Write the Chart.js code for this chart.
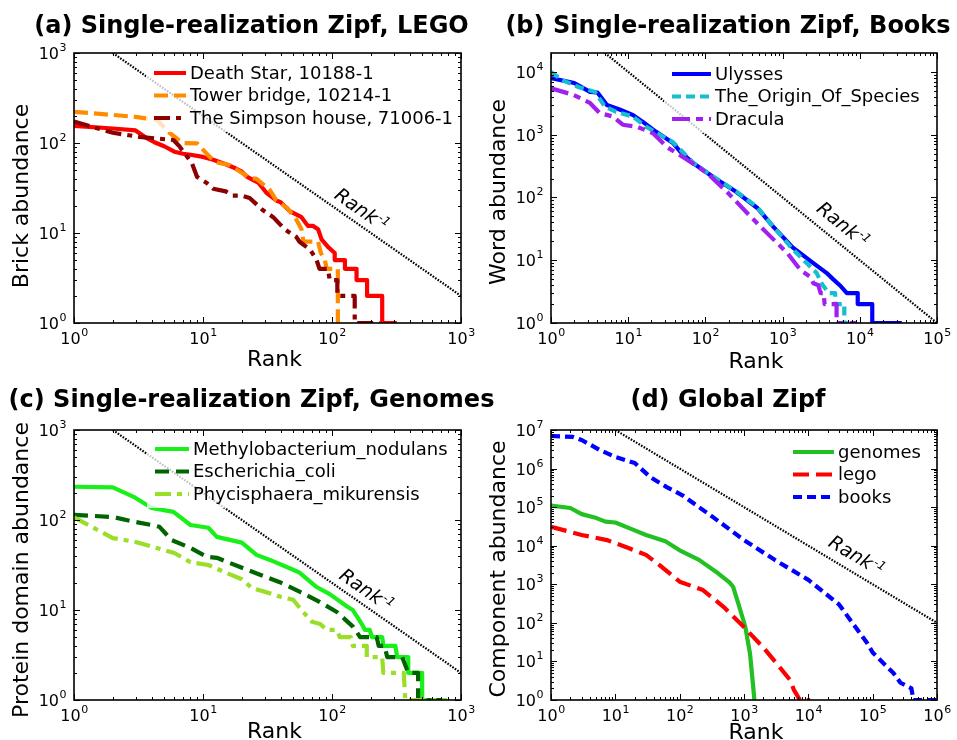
<!DOCTYPE html>
<html>
<head>
<meta charset="utf-8">
<script src="https://cdn.jsdelivr.net/npm/chart.js@4.4.1/dist/chart.umd.min.js"></script>
<style>
  html, body { margin: 0; padding: 0; background: #fff; }
  #wrap { position: relative; width: 957px; height: 740px; }
  #wrap canvas { position: absolute; left: 0; top: 0; }
</style>
</head>
<body>
<div id="wrap">
  <canvas id="chartA" width="957" height="740"></canvas>
  <canvas id="chartB" width="957" height="740"></canvas>
  <canvas id="chartC" width="957" height="740"></canvas>
  <canvas id="chartD" width="957" height="740"></canvas>
</div>
<script>
// ---------------- DATA ----------------
// (a) LEGO sets
const deathStarRank  = [1, 2, 3, 3.6, 4.2, 5, 6, 7, 8, 10, 12, 15, 18, 20, 22, 27, 31, 37, 40, 47, 58, 65, 71, 78, 83, 93, 105, 105, 126, 126, 155, 155, 187, 187, 245, 245, 318];
const deathStarCount = [155, 145, 138, 115, 102, 92, 80, 76, 74, 70, 65, 58, 52, 48, 42, 36, 28, 23, 22, 17.5, 15, 12, 12, 11, 8.5, 7, 6, 5, 5, 4, 4, 3, 3, 2, 2, 1, 1];
const towerRank  = [1, 2, 3, 4.4, 5.5, 6.9, 9, 9.5, 11.3, 12.7, 16, 23, 26, 33, 37, 45, 53, 58, 60, 78, 82, 88, 91, 111, 111, 116];
const towerCount = [222, 205, 195, 180, 130, 100, 99, 91, 70, 61, 57, 41, 40, 30, 23, 19, 14, 11, 8, 8, 6, 5, 4, 4, 1, 1];
const simpsonRank  = [1, 2, 3.2, 5.9, 6.6, 8.2, 9, 10.7, 12, 15, 17, 20, 23, 29, 35, 43, 53, 56, 68, 76, 80, 93, 96, 110, 110, 150, 150, 235];
const simpsonCount = [173, 130, 117, 108, 91, 60, 42, 36, 31, 29, 26, 26, 24.5, 18, 15, 11, 9, 8, 6.5, 5, 4, 4, 3, 3, 2, 2, 1, 1];

// (b) books
const ulyssesRank  = [1, 2, 3.2, 4, 5.3, 7.9, 11.6, 15.5, 23, 38, 47, 69, 126, 250, 470, 760, 1350, 2500, 3700, 4500, 5500, 6800, 9400, 9400, 14500, 14500, 35000];
const ulyssesCount = [7950, 6650, 4800, 4700, 2970, 2500, 2050, 1600, 1110, 740, 540, 355, 212, 123, 68, 34, 16, 9, 6.3, 5, 4, 3, 3, 2, 2, 1, 1];
const originRank  = [1, 1.4, 2.3, 3.7, 5, 7, 11.5, 17, 38, 69, 126, 250, 470, 760, 1350, 2050, 2750, 3300, 4000, 4800, 4800, 6300, 6300, 7000];
const originCount = [10000, 7400, 5700, 4800, 2800, 2300, 1950, 1340, 760, 360, 215, 125, 70, 34, 15, 9, 6.3, 4, 3, 3, 2, 2, 1, 1];
const draculaRank  = [1, 1.95, 3.2, 4.3, 6.3, 8.5, 13, 21, 32, 58, 105, 190, 350, 630, 1150, 1700, 2300, 2500, 2900, 3100, 3400, 3500, 5000, 5000, 9000];
const draculaCount = [5500, 4300, 3200, 2200, 1950, 1440, 1340, 1050, 630, 400, 245, 123, 56, 27, 13, 7, 5.4, 4.3, 4, 3, 3, 2, 2, 1, 1];

// (c) genomes
const methyloRank  = [1, 2, 2.9, 4, 5.9, 8, 11, 12.8, 20, 26, 33, 50, 56, 76, 96, 130, 145, 160, 170, 180, 196, 204, 245, 250, 310, 320, 390, 390, 500, 500, 780];
const methyloCount = [234, 230, 181, 136, 123, 88, 82, 65, 56, 41, 36, 28, 26, 18, 15, 11, 10, 8, 7, 6, 6, 5, 5, 4, 4, 3, 3, 2, 2, 1, 1];
const ecoliRank  = [1, 2, 3, 4, 4.6, 5.7, 8, 10.7, 12.8, 19.4, 28, 39, 56, 80, 109, 146, 165, 222, 230, 255, 268, 350, 390, 465, 465, 780];
const ecoliCount = [114, 108, 95, 88, 84, 60, 49, 39, 38, 30, 24.5, 20.5, 16, 12.3, 9.5, 6.5, 5, 5, 4, 4, 3, 3, 2, 2, 1, 1];
const phycisRank  = [1, 2, 3, 6, 8, 11, 15, 20, 24, 30, 40, 50, 58, 70, 81, 91, 109, 115, 140, 145, 186, 186, 245, 250, 360, 370, 780];
const phycisCount = [107, 63, 57, 43, 34, 31.6, 26, 22, 17.5, 16, 14, 13, 10, 7.4, 7, 6, 6, 5, 5, 4, 4, 3, 3, 2, 2, 1, 1];

// (d) global
const genomesRank  = [1, 2, 3, 5.1, 7, 10, 20, 30, 60, 100, 200, 400, 600, 680, 810, 1050, 1240, 1390, 1450];
const genomesCount = [110000, 95000, 66000, 52000, 42000, 40000, 25000, 19000, 13000, 7600, 4300, 1900, 1100, 850, 330, 78, 16, 2.2, 1];
const legoRank  = [1, 3, 7.4, 16, 30, 53, 100, 230, 480, 980, 2000, 3600, 5200, 6000, 7400, 10700];
const legoCount = [31000, 19000, 14000, 8700, 5800, 2800, 1170, 710, 260, 80, 23, 7, 3.3, 1.8, 1, 1];
const booksRank  = [1, 2.2, 3, 5.8, 10, 20, 35, 63, 112, 330, 1000, 3000, 10000, 30000, 82000, 100000, 210000, 270000, 400000, 430000, 1000000];
const booksCount = [7000000, 6600000, 5500000, 3000000, 2000000, 1400000, 600000, 330000, 200000, 55000, 14000, 4300, 1300, 300, 30, 17, 5, 2.8, 2, 1, 1];

// Rank^-1 guide lines: end points
const guideA = { rank: [2, 1000], count: [1000, 2] };
const guideB = { rank: [5, 100000], count: [20000, 1] };
const guideC = { rank: [2, 1000], count: [1000, 2] };
const guideD = { rank: [10, 1000000], count: [10000000, 100] };

// major tick values (labelled 10^n)
const ticksA = { x: [1, 10, 100, 1000], y: [1, 10, 100, 1000] };
const ticksB = { x: [1, 10, 100, 1000, 10000, 100000], y: [1, 10, 100, 1000, 10000] };
const ticksC = { x: [1, 10, 100, 1000], y: [1, 10, 100, 1000] };
const ticksD = { x: [1, 10, 100, 1000, 10000, 100000, 1000000], y: [1, 10, 100, 1000, 10000, 100000, 1000000, 10000000] };

// ---------------- HELPERS ----------------
const FONT = '"DejaVu Sans", "Liberation Sans", sans-serif';
const MAJOR = 6, MINOR = 3;

function pts(r, c) {
  return r.map((x, i) => ({ x: x, y: c[i] }));
}

function minorTicks(min, max) {
  const out = [];
  for (let e = Math.floor(Math.log10(min)); Math.pow(10, e) < max; e++) {
    for (let m = 2; m <= 9; m++) {
      const v = m * Math.pow(10, e);
      if (v > min && v < max) out.push(v);
    }
  }
  return out;
}

// draws "10" with a raised exponent; anchor = 'center' or 'right'
function drawPow(ctx, v, x, y, anchor) {
  const e = String(Math.round(Math.log10(v)));
  ctx.font = '16px ' + FONT;
  const wb = ctx.measureText('10').width;
  ctx.font = '11px ' + FONT;
  const we = ctx.measureText(e).width;
  const x0 = anchor === 'center' ? x - (wb + we) / 2 : x - wb - we;
  ctx.textAlign = 'left';
  ctx.textBaseline = 'alphabetic';
  ctx.font = '16px ' + FONT;
  ctx.fillText('10', x0, y);
  ctx.font = '11px ' + FONT;
  ctx.fillText(e, x0 + wb + 0.5, y - 8);
}

function makeDecor(p) {
  return {
    id: 'decor',
    afterDatasetsDraw(chart) {
      // legend with translucent background
      const ctx = chart.ctx, a = chart.chartArea;
      const L = p.legend;
      const rowH = 22.5;
      ctx.save();
      ctx.font = '18px ' + FONT;
      let tw = 0;
      p.series.forEach(s => { tw = Math.max(tw, ctx.measureText(s.label).width); });
      const bx = a.left + L.x - 8, by = a.top + L.y - 14;
      const bw = (L.textX - L.x) + tw + 14, bh = rowH * (p.series.length - 1) + 28;
      ctx.fillStyle = 'rgba(255,255,255,0.75)';
      ctx.fillRect(bx, by, bw, bh);
      p.series.forEach((s, i) => {
        const yy = a.top + L.y + i * rowH;
        ctx.strokeStyle = s.color;
        ctx.lineWidth = 4;
        ctx.setLineDash(s.dash || []);
        ctx.beginPath();
        ctx.moveTo(a.left + L.x, yy);
        ctx.lineTo(a.left + L.textX - 4, yy);
        ctx.stroke();
        ctx.setLineDash([]);
        ctx.fillStyle = '#000';
        ctx.textAlign = 'left';
        ctx.textBaseline = 'middle';
        ctx.fillText(s.label, a.left + L.textX, yy + 1);
      });
      ctx.restore();
    },
    afterDraw(chart) {
      const ctx = chart.ctx, a = chart.chartArea;
      const xs = chart.scales.x, ys = chart.scales.y;
      ctx.save();
      // tick marks on all four sides, pointing inward
      ctx.strokeStyle = '#000';
      ctx.lineWidth = 1;
      ctx.beginPath();
      const xt = (v, len) => {
        const x = Math.round(xs.getPixelForValue(v)) + 0.5;
        ctx.moveTo(x, a.bottom); ctx.lineTo(x, a.bottom - len);
        ctx.moveTo(x, a.top); ctx.lineTo(x, a.top + len);
      };
      const yt = (v, len) => {
        const y = Math.round(ys.getPixelForValue(v)) + 0.5;
        ctx.moveTo(a.left, y); ctx.lineTo(a.left + len, y);
        ctx.moveTo(a.right, y); ctx.lineTo(a.right - len, y);
      };
      p.ticks.x.forEach(v => xt(v, MAJOR));
      minorTicks(xs.min, xs.max).forEach(v => xt(v, MINOR));
      p.ticks.y.forEach(v => yt(v, MAJOR));
      minorTicks(ys.min, ys.max).forEach(v => yt(v, MINOR));
      ctx.stroke();
      ctx.lineWidth = 1.6;
      ctx.strokeRect(a.left, a.top, a.right - a.left, a.bottom - a.top);

      // tick labels
      ctx.fillStyle = '#000';
      p.ticks.x.forEach(v => drawPow(ctx, v, xs.getPixelForValue(v), a.bottom + 21, 'center'));
      p.ticks.y.forEach(v => drawPow(ctx, v, a.left - 8, ys.getPixelForValue(v) + 6, 'right'));

      // title
      ctx.font = 'bold 24px ' + FONT;
      ctx.textAlign = 'center';
      ctx.textBaseline = 'alphabetic';
      ctx.fillText(p.title, (a.left + a.right) / 2 - 16, a.top - p.titleGap);

      // axis labels
      ctx.font = '22px ' + FONT;
      ctx.fillText('Rank', (a.left + a.right) / 2 + p.xLabelDx, p.xLabelY);
      ctx.save();
      ctx.translate(a.left - 52, (a.top + a.bottom) / 2 + p.yLabelDy);
      ctx.rotate(-Math.PI / 2);
      ctx.textBaseline = 'middle';
      ctx.fillText(p.yLabel, 0, 0);
      ctx.restore();

      // Rank^-1 annotation along the guide line
      const g = p.guide;
      const x1 = xs.getPixelForValue(g.rank[0]), y1 = ys.getPixelForValue(g.count[0]);
      const x2 = xs.getPixelForValue(g.rank[1]), y2 = ys.getPixelForValue(g.count[1]);
      const ang = Math.atan2(y2 - y1, x2 - x1);
      ctx.save();
      ctx.translate(xs.getPixelForValue(p.guideLabel[0]), ys.getPixelForValue(p.guideLabel[1]));
      ctx.rotate(ang);
      ctx.font = 'italic 19px ' + FONT;
      const w1 = ctx.measureText('Rank').width;
      ctx.font = 'italic 12px ' + FONT;
      const w2 = ctx.measureText('-1').width;
      ctx.textAlign = 'left';
      ctx.textBaseline = 'alphabetic';
      ctx.font = 'italic 19px ' + FONT;
      ctx.fillText('Rank', -(w1 + w2) / 2, 7);
      ctx.font = 'italic 12px ' + FONT;
      ctx.fillText('-1', -(w1 + w2) / 2 + w1 + 1, 0);
      ctx.restore();

      ctx.restore();
    }
  };
}

// ---------------- PANELS ----------------
function makePanel(id, p) {
  const ds = [{
    data: pts(p.guide.rank, p.guide.count),
    borderColor: '#000', borderWidth: 2.2, borderDash: [1.6, 1.4],
    pointRadius: 0, fill: false, order: 100, clip: 0
  }];
  p.series.forEach((s, i) => {
    ds.push({
      label: s.label,
      data: pts(s.rank, s.count),
      borderColor: s.color, borderWidth: 4.2, borderDash: s.dash || [],
      borderJoinStyle: 'round', pointRadius: 0, fill: false, tension: 0,
      order: 10 - i, clip: 0
    });
  });
  return new Chart(document.getElementById(id), {
    type: 'line',
    data: { datasets: ds },
    options: {
      responsive: false, animation: false, devicePixelRatio: 1, events: [],
      layout: { autoPadding: false, padding: { left: p.area[0], top: p.area[1], right: 957 - p.area[2], bottom: 740 - p.area[3] } },
      plugins: { legend: { display: false }, tooltip: { enabled: false }, title: { display: false } },
      scales: {
        x: { type: 'logarithmic', display: false, min: p.xRange[0], max: p.xRange[1] },
        y: { type: 'logarithmic', display: false, min: p.yRange[0], max: p.yRange[1] }
      }
    },
    plugins: [makeDecor(p)]
  });
}

makePanel('chartA', {
  title: '(a) Single-realization Zipf, LEGO', titleGap: 20,
  yLabel: 'Brick abundance', yLabelDy: 8, xLabelDx: 7, xLabelY: 366,
  area: [74, 53, 461, 323], xRange: [1, 1000], yRange: [1, 1000], ticks: ticksA,
  guide: guideA, guideLabel: [170, 18.5],
  legend: { x: 80, textX: 116, y: 20 },
  series: [
    { label: 'Death Star, 10188-1', rank: deathStarRank, count: deathStarCount, color: '#ff0000' },
    { label: 'Tower bridge, 10214-1', rank: towerRank, count: towerCount, color: '#ff8c00', dash: [14, 6] },
    { label: 'The Simpson house, 71006-1', rank: simpsonRank, count: simpsonCount, color: '#8b0000', dash: [16, 6, 5, 6] }
  ]
});

makePanel('chartB', {
  title: '(b) Single-realization Zipf, Books', titleGap: 20,
  yLabel: 'Word abundance', yLabelDy: 4, xLabelDx: 12, xLabelY: 368,
  area: [551, 53, 937, 323], xRange: [1, 100000], yRange: [1, 20000], ticks: ticksB,
  guide: guideB, guideLabel: [6100, 38],
  legend: { x: 121, textX: 164, y: 21 },
  series: [
    { label: 'Ulysses', rank: ulyssesRank, count: ulyssesCount, color: '#0000ff' },
    { label: 'The_Origin_Of_Species', rank: originRank, count: originCount, color: '#17becf', dash: [9, 5] },
    { label: 'Dracula', rank: draculaRank, count: draculaCount, color: '#a020f0', dash: [18, 6, 7, 6] }
  ]
});

makePanel('chartC', {
  title: '(c) Single-realization Zipf, Genomes', titleGap: 23,
  yLabel: 'Protein domain abundance', yLabelDy: 5, xLabelDx: 7, xLabelY: 738,
  area: [74, 430, 461, 700], xRange: [1, 1000], yRange: [1, 1000], ticks: ticksC,
  guide: guideC, guideLabel: [185, 17],
  legend: { x: 81, textX: 119, y: 19 },
  series: [
    { label: 'Methylobacterium_nodulans', rank: methyloRank, count: methyloCount, color: '#19f019' },
    { label: 'Escherichia_coli', rank: ecoliRank, count: ecoliCount, color: '#006400', dash: [14, 7] },
    { label: 'Phycisphaera_mikurensis', rank: phycisRank, count: phycisCount, color: '#9ade28', dash: [16, 6, 5, 6] }
  ]
});

makePanel('chartD', {
  title: '(d) Global Zipf', titleGap: 23,
  yLabel: 'Component abundance', yLabelDy: 4, xLabelDx: 12, xLabelY: 739,
  area: [551, 430, 937, 700], xRange: [1, 1000000], yRange: [1, 10000000], ticks: ticksD,
  guide: guideD, guideLabel: [56000, 5750],
  legend: { x: 242, textX: 287, y: 22 },
  series: [
    { label: 'genomes', rank: genomesRank, count: genomesCount, color: '#22c022' },
    { label: 'lego', rank: legoRank, count: legoCount, color: '#ff0000', dash: [16, 7] },
    { label: 'books', rank: booksRank, count: booksCount, color: '#0000ff', dash: [9, 5] }
  ]
});
</script>
</body>
</html>
